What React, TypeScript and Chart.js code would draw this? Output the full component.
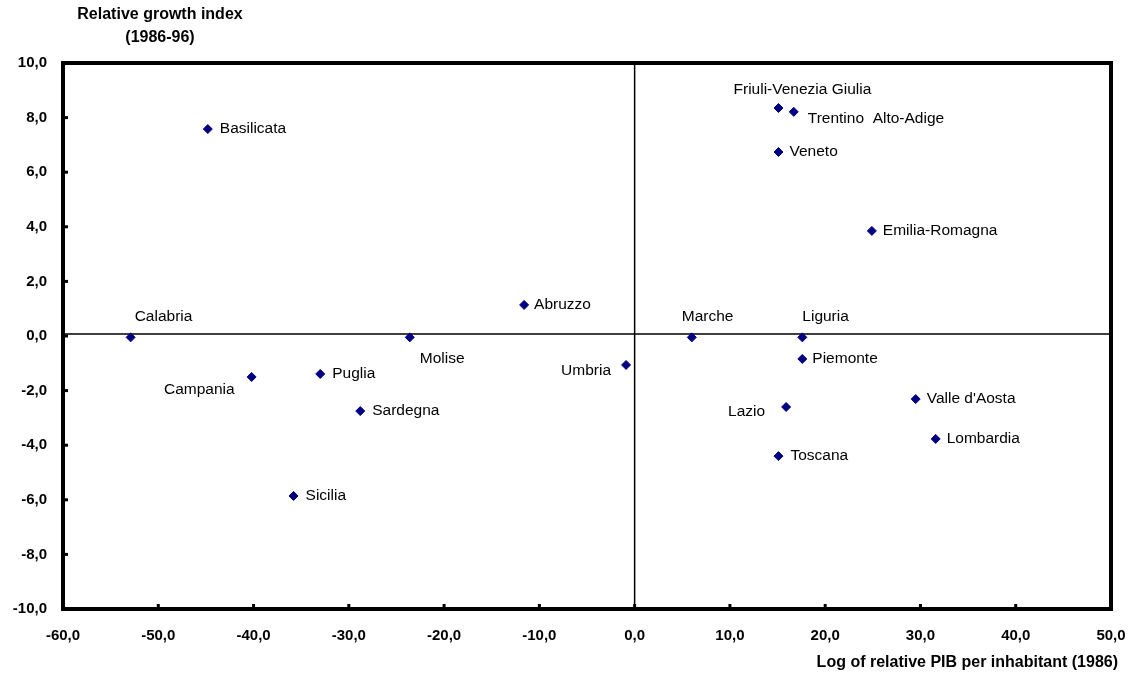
import { useEffect, useRef } from 'react';
import { Chart, registerables } from 'chart.js';

Chart.register(...registerables);

const regions = [
  'Basilicata', 'Calabria', 'Campania', 'Puglia', 'Sardegna', 'Sicilia', 'Molise',
  'Abruzzo', 'Umbria', 'Marche', 'Liguria', 'Piemonte', 'Lazio', 'Toscana',
  "Valle d'Aosta", 'Lombardia', 'Emilia-Romagna', 'Veneto', 'Friuli-Venezia Giulia',
  'Trentino  Alto-Adige',
];
const logPib = [
  -44.8, -52.9, -40.2, -33.0, -28.8, -35.8, -23.6,
  -11.6, -0.9, 6.0, 17.6, 17.6, 15.9, 15.1,
  29.5, 31.6, 24.9, 15.1, 15.1,
  16.7,
];
const growthIndex = [
  7.58, -0.05, -1.5, -1.39, -2.75, -5.86, -0.05,
  1.14, -1.06, -0.05, -0.05, -0.84, -2.6, -4.4,
  -2.31, -3.77, 3.85, 6.74, 8.35,
  8.21,
];

const xTitle = 'Log of relative PIB per inhabitant (1986)';
const yTitle = ['Relative growth index', '(1986-96)'];

// label placement next to each point: [align, dx, dy]
const labelPlace: Record<string, [CanvasTextAlign, number, number]> = {
  Basilicata: ['left', 12, 0],
  Calabria: ['left', 4, -21],
  Campania: ['right', -17, 13],
  Puglia: ['left', 12, 0],
  Sardegna: ['left', 12, 0],
  Sicilia: ['left', 12, 0],
  Molise: ['left', 10, 21],
  Abruzzo: ['left', 10, 0],
  Umbria: ['right', -15, 6],
  Marche: ['left', -10, -21],
  Liguria: ['left', 0, -21],
  Piemonte: ['left', 10, 0],
  Lazio: ['right', -21, 5],
  Toscana: ['left', 12, 0],
  "Valle d'Aosta": ['left', 11, 0],
  Lombardia: ['left', 11, 0],
  'Emilia-Romagna': ['left', 11, 0],
  Veneto: ['left', 11, 0],
  'Friuli-Venezia Giulia': ['left', -45, -18],
  'Trentino  Alto-Adige': ['left', 14, 7],
};

const FONT = "'Liberation Sans', Arial, sans-serif";
const fmt = (v: number | string) => Number(v).toFixed(1).replace('.', ',');

const framePlugin = {
  id: 'frame',
  beforeDatasetsDraw(chart: any) {
    const { ctx, chartArea: a, scales } = chart;
    const x0 = scales.x.getPixelForValue(0);
    const y0 = scales.y.getPixelForValue(0);
    ctx.save();
    ctx.strokeStyle = '#000';
    ctx.lineWidth = 1.5;
    ctx.beginPath();
    ctx.moveTo(x0, a.top);
    ctx.lineTo(x0, a.bottom);
    ctx.moveTo(a.left, y0 - 2);
    ctx.lineTo(a.right, y0 - 2);
    ctx.stroke();
    ctx.restore();
  },
  afterDatasetsDraw(chart: any) {
    const { ctx, chartArea: a, scales } = chart;
    ctx.save();
    // point labels
    ctx.fillStyle = '#000';
    ctx.font = `15.5px ${FONT}`;
    ctx.textBaseline = 'middle';
    const meta = chart.getDatasetMeta(0);
    meta.data.forEach((pt: any, i: number) => {
      const name = regions[i];
      const [align, dx, dy] = labelPlace[name] || ['left', 10, 0];
      ctx.textAlign = align;
      ctx.fillText(name, pt.x + dx, pt.y + dy);
    });
    // frame
    ctx.strokeStyle = '#000';
    ctx.lineWidth = 4;
    ctx.strokeRect(a.left, a.top, a.right - a.left, a.bottom - a.top);
    // inner tick marks
    ctx.fillStyle = '#000';
    scales.x.ticks.forEach((t: any) => {
      const px = scales.x.getPixelForValue(t.value);
      ctx.fillRect(px - 1.5, a.bottom - 5, 3, 4);
    });
    scales.y.ticks.forEach((t: any) => {
      const py = scales.y.getPixelForValue(t.value);
      ctx.fillRect(a.left + 1, py - 1.5, 4, 3);
    });
    // axis titles
    ctx.font = `bold 16px ${FONT}`;
    ctx.textAlign = 'center';
    ctx.fillText(yTitle[0], 160, 15);
    ctx.fillText(yTitle[1], 160, 38);
    ctx.textAlign = 'right';
    ctx.fillText(xTitle, 1118, 663);
    ctx.restore();
  },
};

export default function App() {
  const canvasRef = useRef<HTMLCanvasElement>(null);
  const chartRef = useRef<Chart | null>(null);

  useEffect(() => {
    if (!canvasRef.current) return;
    if (chartRef.current) chartRef.current.destroy();
    chartRef.current = new Chart(canvasRef.current, {
      type: 'scatter',
      data: {
        datasets: [
          {
            data: logPib.map((x, i) => ({ x, y: growthIndex[i] })),
            pointStyle: 'rectRot',
            pointRadius: 4.5,
            pointBorderWidth: 1,
            backgroundColor: '#000080',
            borderColor: '#000080',
          },
        ],
      },
      options: {
        animation: false,
        responsive: false,
        layout: { padding: { top: 63, right: 26, left: 0, bottom: 0 } },
        plugins: { legend: { display: false }, tooltip: { enabled: false } },
        scales: {
          x: {
            type: 'linear',
            min: -60,
            max: 50,
            grid: { display: false, drawTicks: false },
            border: { display: false },
            ticks: {
              stepSize: 10,
              padding: 18,
              color: '#000',
              font: { family: FONT, size: 15, weight: 'bold' },
              callback: (v: any) => fmt(v),
            },
            afterFit: (s: any) => {
              s.height = 65;
              s.paddingLeft = 0;
              s.paddingRight = 0;
            },
          },
          y: {
            type: 'linear',
            min: -10,
            max: 10,
            grid: { display: false, drawTicks: false },
            border: { display: false },
            ticks: {
              stepSize: 2,
              padding: 16,
              color: '#000',
              font: { family: FONT, size: 15, weight: 'bold' },
              callback: (v: any) => fmt(v),
            },
            afterFit: (s: any) => {
              s.width = 63;
              s.paddingTop = 0;
              s.paddingBottom = 0;
            },
          },
        },
      },
      plugins: [framePlugin],
    } as any);
    return () => {
      chartRef.current?.destroy();
      chartRef.current = null;
    };
  }, []);

  return (
    <div style={{ position: 'fixed', left: 0, top: 0, width: 1137, height: 674, background: '#fff' }}>
      <canvas ref={canvasRef} width={1137} height={674} style={{ width: 1137, height: 674 }} />
    </div>
  );
}
